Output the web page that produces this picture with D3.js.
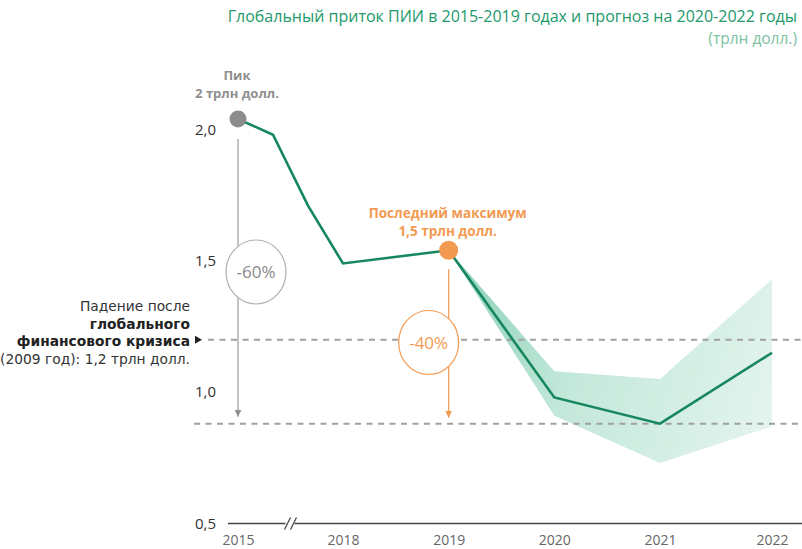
<!DOCTYPE html>
<html>
<head>
<meta charset="utf-8">
<script src="https://cdn.jsdelivr.net/npm/d3@7"></script>
<style>
  html, body { margin: 0; padding: 0; background: #fff; }
  svg { display: block; font-family: "Open Sans", "DejaVu Sans", sans-serif; }
</style>
</head>
<body>
<svg id="chart" width="802" height="549"></svg>
<script>
// FDI inflows, trillion USD
const years = [2015, 2016, 2017, 2018, 2019, 2020, 2021, 2022];
const flows = [2.04, 1.98, 1.71, 1.49, 1.54, 0.98, 0.88, 1.15];

// Forecast range (2019 is the last actual point)
const fanYears = [2019, 2020, 2021, 2022];
const fanLow  = [1.54, 0.91, 0.73, 0.87];
const fanHigh = [1.54, 1.08, 1.05, 1.43];

const xLabelYears = [2015, 2018, 2019, 2020, 2021, 2022];
const yTicks = [0.5, 1.0, 1.5, 2.0];

const crisisLevel = 1.2;       // post-crisis low (2009)
const peakYear = 2015;
const lastMaxYear = 2019;
const forecastLowYear = 2021;

const title = "Глобальный приток ПИИ в 2015-2019 годах и прогноз на 2020-2022 годы";
const subtitle = "(трлн долл.)";
const peakLabel = ["Пик", "2 трлн долл."];
const lastMaxLabel = ["Последний максимум", "1,5 трлн долл."];
const crisisLabel = [
  { text: "Падение после", bold: false },
  { text: "глобального", bold: true },
  { text: "финансового кризиса", bold: true },
  { text: "(2009 год): 1,2 трлн долл.", bold: false }
];
const dropPeak = "-60%";
const dropLastMax = "-40%";

const green = "#17875f";
const grey = "#8c8c8c";
const orange = "#f39a52";

const svg = d3.select("#chart");
const W = 802;

// Years 2015-2018 are compressed (axis break), the rest evenly spaced
const x = d3.scaleLinear()
  .domain([2015, 2018, 2021, 2022])
  .range([238, 343, 660, 772]);
const y = d3.scaleLinear()
  .domain([0.5, 2.0])
  .range([523.5, 129.5]);

// Gradient for the forecast band
const defs = svg.append("defs");
const grad = defs.append("linearGradient")
  .attr("id", "fanGrad")
  .attr("gradientUnits", "userSpaceOnUse")
  .attr("x1", x(2019)).attr("y1", y(1.3))
  .attr("x2", x(2022)).attr("y2", y(0.9));
grad.append("stop").attr("offset", 0).attr("stop-color", "#8fd3ba");
grad.append("stop").attr("offset", 0.4).attr("stop-color", "#c3e8da");
grad.append("stop").attr("offset", 1).attr("stop-color", "#e3f4ed");

defs.append("marker")
  .attr("id", "arrGrey").attr("viewBox", "0 0 10 10")
  .attr("refX", 10).attr("refY", 5)
  .attr("markerWidth", 7).attr("markerHeight", 7)
  .attr("markerUnits", "userSpaceOnUse")
  .attr("orient", "auto")
  .append("path").attr("d", "M0,0L10,5L0,10Z").attr("fill", "#909090");
defs.append("marker")
  .attr("id", "arrOrange").attr("viewBox", "0 0 10 10")
  .attr("refX", 10).attr("refY", 5)
  .attr("markerWidth", 7).attr("markerHeight", 7)
  .attr("markerUnits", "userSpaceOnUse")
  .attr("orient", "auto")
  .append("path").attr("d", "M0,0L10,5L0,10Z").attr("fill", orange);

// Title
svg.append("text")
  .attr("x", 797).attr("y", 22)
  .attr("text-anchor", "end")
  .attr("font-size", 16)
  .attr("fill", "#22996b")
  .text(title);
svg.append("text")
  .attr("x", 797).attr("y", 44)
  .attr("text-anchor", "end")
  .attr("font-size", 15.5)
  .attr("fill", "#7cc3a2")
  .text(subtitle);

// Forecast band
const fanData = fanYears.map((yr, i) => ({ yr, lo: fanLow[i], hi: fanHigh[i] }));
svg.append("path")
  .datum(fanData)
  .attr("fill", "url(#fanGrad)")
  .attr("d", d3.area().x(d => x(d.yr)).y0(d => y(d.lo)).y1(d => y(d.hi)));

// Reference dashed lines
const dash = svg.append("g")
  .attr("stroke", "#a0a0a0")
  .attr("stroke-width", 2)
  .attr("stroke-dasharray", "6,5.5");
dash.append("line")
  .attr("x1", 208).attr("x2", W)
  .attr("y1", y(crisisLevel)).attr("y2", y(crisisLevel));
const lowVal = flows[years.indexOf(forecastLowYear)];
dash.append("line")
  .attr("x1", 194).attr("x2", W)
  .attr("y1", y(lowVal)).attr("y2", y(lowVal));

// Small pointer at the crisis label
svg.append("path")
  .attr("d", d3.line()([[195, y(crisisLevel) - 4], [202, y(crisisLevel)], [195, y(crisisLevel) + 4]]) + "Z")
  .attr("fill", "#222");

// Crisis label (compact font keeps the four lines tight)
const cl = svg.append("text")
  .attr("text-anchor", "end")
  .attr("font-family", "DejaVu Sans, sans-serif")
  .attr("font-size", 13.8)
  .attr("fill", "#333");
crisisLabel.forEach((l, i) => {
  cl.append("tspan")
    .attr("x", 190)
    .attr("y", 311 + i * 17.5)
    .attr("font-weight", l.bold ? 700 : 400)
    .attr("fill", l.bold ? "#222" : "#333")
    .text(l.text);
});

// Drop arrows
const peakVal = flows[years.indexOf(peakYear)];
const lastMaxVal = flows[years.indexOf(lastMaxYear)];
svg.append("line")
  .attr("x1", x(peakYear)).attr("x2", x(peakYear))
  .attr("y1", y(peakVal) + 20).attr("y2", y(lowVal) - 7)
  .attr("stroke", "#9a9a9a").attr("stroke-width", 1.2)
  .attr("marker-end", "url(#arrGrey)");
svg.append("line")
  .attr("x1", x(lastMaxYear)).attr("x2", x(lastMaxYear))
  .attr("y1", y(lastMaxVal) + 19).attr("y2", y(lowVal) - 6)
  .attr("stroke", orange).attr("stroke-width", 1.2)
  .attr("marker-end", "url(#arrOrange)");

// Percentage bubbles
function bubble(cx, cy, txt, col, textCol) {
  svg.append("ellipse")
    .attr("cx", cx).attr("cy", cy).attr("rx", 30).attr("ry", 32)
    .attr("fill", "#fff").attr("stroke", col).attr("stroke-width", 1.2);
  svg.append("text")
    .attr("x", cx).attr("y", cy + 6)
    .attr("text-anchor", "middle")
    .attr("font-size", 17)
    .attr("fill", textCol)
    .text(txt);
}
bubble(x(peakYear) + 18, 272, dropPeak, "#b0b0b0", "#8a8a8a");
bubble(x(lastMaxYear) - 20, 342.5, dropLastMax, orange, orange);

// Main line
svg.append("path")
  .datum(years.map((yr, i) => [x(yr), y(flows[i])]))
  .attr("fill", "none")
  .attr("stroke", green)
  .attr("stroke-width", 2.6)
  .attr("stroke-linejoin", "miter")
  .attr("d", d3.line());

// Highlight points
svg.append("circle")
  .attr("cx", x(peakYear)).attr("cy", y(peakVal)).attr("r", 8.5)
  .attr("fill", grey);
svg.append("circle")
  .attr("cx", x(lastMaxYear)).attr("cy", y(lastMaxVal)).attr("r", 9.5)
  .attr("fill", orange);

// Point labels
const pk = svg.append("text")
  .attr("text-anchor", "middle")
  .attr("font-size", 13)
  .attr("font-weight", 700)
  .attr("fill", "#8e8e8e");
peakLabel.forEach((t, i) => {
  pk.append("tspan").attr("x", x(peakYear) - 1).attr("y", 80 + i * 17.5).text(t);
});
const lm = svg.append("text")
  .attr("text-anchor", "middle")
  .attr("font-size", 13.5)
  .attr("font-weight", 700)
  .attr("fill", orange);
lastMaxLabel.forEach((t, i) => {
  lm.append("tspan").attr("x", x(lastMaxYear) - 1).attr("y", 218 + i * 17.5).text(t);
});

// Y axis
const yAxis = svg.append("g")
  .attr("transform", "translate(222,0)")
  .call(d3.axisLeft(y).tickValues(yTicks).tickSize(0).tickPadding(6)
    .tickFormat(d => d3.format(".1f")(d).replace(".", ",")));
yAxis.select(".domain").remove();
yAxis.selectAll("text")
  .attr("font-size", 15)
  .attr("font-family", "Open Sans, sans-serif")
  .attr("fill", "#333");

// X axis (labels sit just under the baseline)
const by = y(0.5);
const xAxis = svg.append("g")
  .attr("transform", `translate(0,${by})`)
  .call(d3.axisBottom(x).tickValues(xLabelYears).tickSize(0)
    .tickFormat(d3.format("d")));
xAxis.select(".domain").remove();
xAxis.selectAll("text")
  .attr("y", 21.5)
  .attr("dy", 0)
  .attr("font-size", 14)
  .attr("font-family", "Open Sans, sans-serif")
  .attr("fill", "#666");

// Baseline with axis break between 2015 and 2018
const brk = x(2016.5);
svg.append("line")
  .attr("x1", 228).attr("x2", brk - 5).attr("y1", by).attr("y2", by)
  .attr("stroke", "#444").attr("stroke-width", 1.3);
svg.append("line")
  .attr("x1", brk + 4).attr("x2", W).attr("y1", by).attr("y2", by)
  .attr("stroke", "#444").attr("stroke-width", 1.3);
[-3, 3].forEach(dx => {
  svg.append("line")
    .attr("x1", brk + dx - 3).attr("x2", brk + dx + 3)
    .attr("y1", by + 6).attr("y2", by - 6)
    .attr("stroke", "#444").attr("stroke-width", 1.3);
});
</script>
</body>
</html>
